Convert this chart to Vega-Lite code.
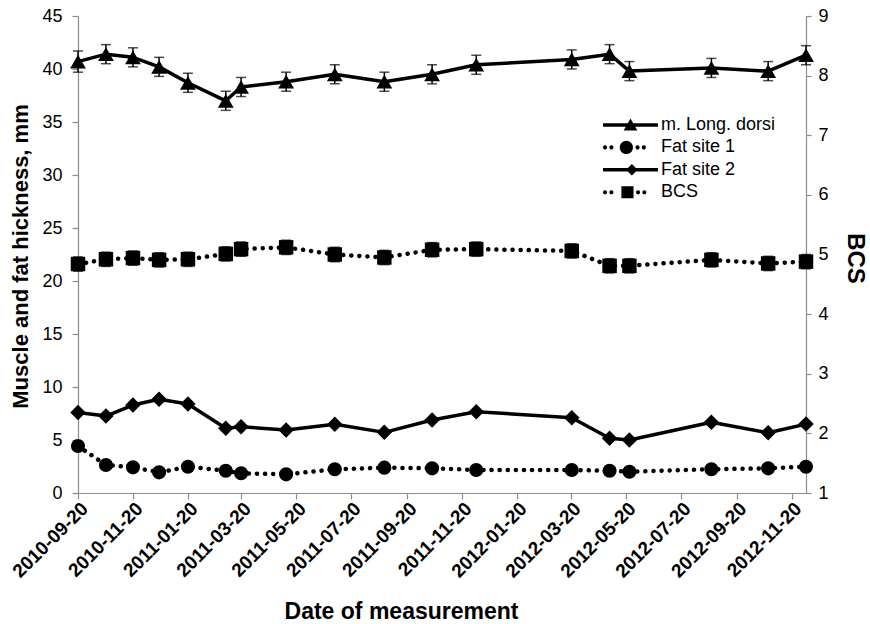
{
  "$schema": "https://vega.github.io/schema/vega-lite/v6.json",
  "width": 728,
  "height": 477,
  "autosize": "none",
  "padding": {"left": 78, "top": 16, "right": 64, "bottom": 131},
  "background": "white",
  "config": {
    "view": {"stroke": null},
    "font": "Liberation Sans",
    "axis": {
      "grid": false,
      "labelFont": "Liberation Sans",
      "titleFont": "Liberation Sans",
      "labelColor": "#000",
      "titleColor": "#000",
      "domainColor": "#8c8c8c",
      "tickColor": "#8c8c8c",
      "domainWidth": 1.2,
      "tickWidth": 1.2
    }
  },
  "datasets": {
    "pts": [
      {"date": "2010/09/20", "series": "m. Long. dorsi", "value": 40.7, "lo": 39.7, "hi": 41.7},
      {"date": "2010/10/21", "series": "m. Long. dorsi", "value": 41.4, "lo": 40.5, "hi": 42.3},
      {"date": "2010/11/20", "series": "m. Long. dorsi", "value": 41.1, "lo": 40.2, "hi": 42.0},
      {"date": "2010/12/19", "series": "m. Long. dorsi", "value": 40.2, "lo": 39.3, "hi": 41.1},
      {"date": "2011/01/20", "series": "m. Long. dorsi", "value": 38.7, "lo": 37.8, "hi": 39.6},
      {"date": "2011/03/03", "series": "m. Long. dorsi", "value": 37.0, "lo": 36.1, "hi": 37.9},
      {"date": "2011/03/20", "series": "m. Long. dorsi", "value": 38.3, "lo": 37.4, "hi": 39.2},
      {"date": "2011/05/09", "series": "m. Long. dorsi", "value": 38.8, "lo": 37.9, "hi": 39.7},
      {"date": "2011/07/02", "series": "m. Long. dorsi", "value": 39.5, "lo": 38.6, "hi": 40.4},
      {"date": "2011/08/26", "series": "m. Long. dorsi", "value": 38.8, "lo": 37.9, "hi": 39.7},
      {"date": "2011/10/18", "series": "m. Long. dorsi", "value": 39.5, "lo": 38.6, "hi": 40.4},
      {"date": "2011/12/06", "series": "m. Long. dorsi", "value": 40.4, "lo": 39.5, "hi": 41.3},
      {"date": "2012/03/21", "series": "m. Long. dorsi", "value": 40.9, "lo": 40.0, "hi": 41.8},
      {"date": "2012/05/02", "series": "m. Long. dorsi", "value": 41.4, "lo": 40.5, "hi": 42.3},
      {"date": "2012/05/24", "series": "m. Long. dorsi", "value": 39.8, "lo": 38.9, "hi": 40.7},
      {"date": "2012/08/23", "series": "m. Long. dorsi", "value": 40.1, "lo": 39.2, "hi": 41.0},
      {"date": "2012/10/25", "series": "m. Long. dorsi", "value": 39.8, "lo": 38.9, "hi": 40.7},
      {"date": "2012/12/06", "series": "m. Long. dorsi", "value": 41.3, "lo": 40.4, "hi": 42.2},

      {"date": "2010/09/20", "series": "Fat site 1", "value": 4.43},
      {"date": "2010/10/21", "series": "Fat site 1", "value": 2.64},
      {"date": "2010/11/20", "series": "Fat site 1", "value": 2.42},
      {"date": "2010/12/19", "series": "Fat site 1", "value": 1.95},
      {"date": "2011/01/20", "series": "Fat site 1", "value": 2.48},
      {"date": "2011/03/03", "series": "Fat site 1", "value": 2.1},
      {"date": "2011/03/20", "series": "Fat site 1", "value": 1.86},
      {"date": "2011/05/09", "series": "Fat site 1", "value": 1.76},
      {"date": "2011/07/02", "series": "Fat site 1", "value": 2.24},
      {"date": "2011/08/26", "series": "Fat site 1", "value": 2.39},
      {"date": "2011/10/18", "series": "Fat site 1", "value": 2.33},
      {"date": "2011/12/06", "series": "Fat site 1", "value": 2.17},
      {"date": "2012/03/21", "series": "Fat site 1", "value": 2.17},
      {"date": "2012/05/02", "series": "Fat site 1", "value": 2.1},
      {"date": "2012/05/24", "series": "Fat site 1", "value": 2.0},
      {"date": "2012/08/23", "series": "Fat site 1", "value": 2.24},
      {"date": "2012/10/25", "series": "Fat site 1", "value": 2.33},
      {"date": "2012/12/06", "series": "Fat site 1", "value": 2.48},

      {"date": "2010/09/20", "series": "Fat site 2", "value": 7.6},
      {"date": "2010/10/21", "series": "Fat site 2", "value": 7.26},
      {"date": "2010/11/20", "series": "Fat site 2", "value": 8.3},
      {"date": "2010/12/19", "series": "Fat site 2", "value": 8.84},
      {"date": "2011/01/20", "series": "Fat site 2", "value": 8.4},
      {"date": "2011/03/03", "series": "Fat site 2", "value": 6.1},
      {"date": "2011/03/20", "series": "Fat site 2", "value": 6.25},
      {"date": "2011/05/09", "series": "Fat site 2", "value": 5.94},
      {"date": "2011/07/02", "series": "Fat site 2", "value": 6.48},
      {"date": "2011/08/26", "series": "Fat site 2", "value": 5.72},
      {"date": "2011/10/18", "series": "Fat site 2", "value": 6.89},
      {"date": "2011/12/06", "series": "Fat site 2", "value": 7.67},
      {"date": "2012/03/21", "series": "Fat site 2", "value": 7.1},
      {"date": "2012/05/02", "series": "Fat site 2", "value": 5.16},
      {"date": "2012/05/24", "series": "Fat site 2", "value": 5.0},
      {"date": "2012/08/23", "series": "Fat site 2", "value": 6.67},
      {"date": "2012/10/25", "series": "Fat site 2", "value": 5.69},
      {"date": "2012/12/06", "series": "Fat site 2", "value": 6.5},

      {"date": "2010/09/20", "series": "BCS", "value": 4.84, "lo": 4.72, "hi": 4.96},
      {"date": "2010/10/21", "series": "BCS", "value": 4.92, "lo": 4.80, "hi": 5.04},
      {"date": "2010/11/20", "series": "BCS", "value": 4.94, "lo": 4.82, "hi": 5.06},
      {"date": "2010/12/19", "series": "BCS", "value": 4.91, "lo": 4.79, "hi": 5.03},
      {"date": "2011/01/20", "series": "BCS", "value": 4.92, "lo": 4.80, "hi": 5.04},
      {"date": "2011/03/03", "series": "BCS", "value": 5.01, "lo": 4.89, "hi": 5.13},
      {"date": "2011/03/20", "series": "BCS", "value": 5.09, "lo": 4.97, "hi": 5.21},
      {"date": "2011/05/09", "series": "BCS", "value": 5.12, "lo": 5.00, "hi": 5.24},
      {"date": "2011/07/02", "series": "BCS", "value": 5.0, "lo": 4.88, "hi": 5.12},
      {"date": "2011/08/26", "series": "BCS", "value": 4.95, "lo": 4.83, "hi": 5.07},
      {"date": "2011/10/18", "series": "BCS", "value": 5.08, "lo": 4.96, "hi": 5.20},
      {"date": "2011/12/06", "series": "BCS", "value": 5.09, "lo": 4.97, "hi": 5.21},
      {"date": "2012/03/21", "series": "BCS", "value": 5.06, "lo": 4.94, "hi": 5.18},
      {"date": "2012/05/02", "series": "BCS", "value": 4.81, "lo": 4.69, "hi": 4.93},
      {"date": "2012/05/24", "series": "BCS", "value": 4.81, "lo": 4.69, "hi": 4.93},
      {"date": "2012/08/23", "series": "BCS", "value": 4.91, "lo": 4.79, "hi": 5.03},
      {"date": "2012/10/25", "series": "BCS", "value": 4.85, "lo": 4.73, "hi": 4.97},
      {"date": "2012/12/06", "series": "BCS", "value": 4.88, "lo": 4.76, "hi": 5.00}
    ]
  },
  "data": {"name": "pts"},
  "encoding": {
    "x": {
      "field": "date",
      "type": "temporal",
      "scale": {
        "domain": [{"year": 2010, "month": 9, "date": 20}, {"year": 2012, "month": 12, "date": 6}],
        "nice": false
      },
      "axis": {
        "title": "Date of measurement",
        "titleFontSize": 23,
        "titleFontWeight": "bold",
        "titleX": 323,
        "titleY": 125,
        "titleBaseline": "alphabetic",
        "titleAnchor": "middle",
        "format": "%Y-%m-%d",
        "labelAngle": -45,
        "labelFontSize": 19,
        "labelFontWeight": "bold",
        "labelPadding": 0,
        "tickSize": 6,
        "labelOverlap": false,
        "labelFlush": false,
        "values": [
          {"year": 2010, "month": 9, "date": 20},
          {"year": 2010, "month": 11, "date": 20},
          {"year": 2011, "month": 1, "date": 20},
          {"year": 2011, "month": 3, "date": 20},
          {"year": 2011, "month": 5, "date": 20},
          {"year": 2011, "month": 7, "date": 20},
          {"year": 2011, "month": 9, "date": 20},
          {"year": 2011, "month": 11, "date": 20},
          {"year": 2012, "month": 1, "date": 20},
          {"year": 2012, "month": 3, "date": 20},
          {"year": 2012, "month": 5, "date": 20},
          {"year": 2012, "month": 7, "date": 20},
          {"year": 2012, "month": 9, "date": 20},
          {"year": 2012, "month": 11, "date": 20}
        ]
      }
    }
  },
  "layer": [
    {
      "layer": [
        {
          "transform": [{"filter": {"field": "series", "equal": "m. Long. dorsi"}}],
          "mark": {"type": "errorbar", "color": "black", "thickness": 1.5, "ticks": {"size": 10, "thickness": 1.5, "color": "black"}},
          "encoding": {
            "y": {
              "field": "lo", "type": "quantitative", "scale": {"domain": [0, 45], "nice": false},
              "axis": {"title": "Muscle and fat hickness, mm", "titleFontSize": 22, "titleFontWeight": "bold", "titleAngle": -90, "titleX": -51, "titleY": 240, "titleAlign": "center", "titleBaseline": "alphabetic", "values": [0, 5, 10, 15, 20, 25, 30, 35, 40, 45], "labelFontSize": 18, "labelPadding": 10, "tickSize": 6}
            },
            "y2": {"field": "hi"}
          }
        },
        {
          "transform": [{"filter": {"field": "series", "equal": "m. Long. dorsi"}}],
          "mark": {"type": "line", "color": "black", "strokeWidth": 3.5, "strokeJoin": "round"},
          "encoding": {
            "y": {
              "field": "value", "type": "quantitative", "scale": {"domain": [0, 45], "nice": false},
              "axis": {"title": "Muscle and fat hickness, mm", "titleFontSize": 22, "titleFontWeight": "bold", "titleAngle": -90, "titleX": -51, "titleY": 240, "titleAlign": "center", "titleBaseline": "alphabetic", "values": [0, 5, 10, 15, 20, 25, 30, 35, 40, 45], "labelFontSize": 18, "labelPadding": 10, "tickSize": 6}
            }
          }
        },
        {
          "transform": [{"filter": {"field": "series", "equal": "Fat site 2"}}],
          "mark": {"type": "line", "color": "black", "strokeWidth": 3.5, "strokeJoin": "round"},
          "encoding": {
            "y": {
              "field": "value", "type": "quantitative", "scale": {"domain": [0, 45], "nice": false},
              "axis": {"title": "Muscle and fat hickness, mm", "titleFontSize": 22, "titleFontWeight": "bold", "titleAngle": -90, "titleX": -51, "titleY": 240, "titleAlign": "center", "titleBaseline": "alphabetic", "values": [0, 5, 10, 15, 20, 25, 30, 35, 40, 45], "labelFontSize": 18, "labelPadding": 10, "tickSize": 6}
            }
          }
        },
        {
          "transform": [{"filter": {"field": "series", "equal": "Fat site 1"}}],
          "mark": {"type": "line", "color": "black", "strokeWidth": 4.5, "strokeCap": "round", "strokeDash": [0.1, 8]},
          "encoding": {
            "y": {
              "field": "value", "type": "quantitative", "scale": {"domain": [0, 45], "nice": false},
              "axis": {"title": "Muscle and fat hickness, mm", "titleFontSize": 22, "titleFontWeight": "bold", "titleAngle": -90, "titleX": -51, "titleY": 240, "titleAlign": "center", "titleBaseline": "alphabetic", "values": [0, 5, 10, 15, 20, 25, 30, 35, 40, 45], "labelFontSize": 18, "labelPadding": 10, "tickSize": 6}
            }
          }
        },
        {
          "transform": [{"filter": {"field": "series", "equal": "m. Long. dorsi"}}],
          "mark": {"type": "point", "shape": "triangle-up", "filled": true, "color": "black", "opacity": 1, "size": 250},
          "encoding": {
            "y": {
              "field": "value", "type": "quantitative", "scale": {"domain": [0, 45], "nice": false},
              "axis": {"title": "Muscle and fat hickness, mm", "titleFontSize": 22, "titleFontWeight": "bold", "titleAngle": -90, "titleX": -51, "titleY": 240, "titleAlign": "center", "titleBaseline": "alphabetic", "values": [0, 5, 10, 15, 20, 25, 30, 35, 40, 45], "labelFontSize": 18, "labelPadding": 10, "tickSize": 6}
            }
          }
        },
        {
          "transform": [{"filter": {"field": "series", "equal": "Fat site 1"}}],
          "mark": {"type": "point", "shape": "circle", "filled": true, "color": "black", "opacity": 1, "size": 200},
          "encoding": {
            "y": {
              "field": "value", "type": "quantitative", "scale": {"domain": [0, 45], "nice": false},
              "axis": {"title": "Muscle and fat hickness, mm", "titleFontSize": 22, "titleFontWeight": "bold", "titleAngle": -90, "titleX": -51, "titleY": 240, "titleAlign": "center", "titleBaseline": "alphabetic", "values": [0, 5, 10, 15, 20, 25, 30, 35, 40, 45], "labelFontSize": 18, "labelPadding": 10, "tickSize": 6}
            }
          }
        },
        {
          "transform": [{"filter": {"field": "series", "equal": "Fat site 2"}}],
          "mark": {"type": "point", "shape": "diamond", "filled": true, "color": "black", "opacity": 1, "size": 240},
          "encoding": {
            "y": {
              "field": "value", "type": "quantitative", "scale": {"domain": [0, 45], "nice": false},
              "axis": {"title": "Muscle and fat hickness, mm", "titleFontSize": 22, "titleFontWeight": "bold", "titleAngle": -90, "titleX": -51, "titleY": 240, "titleAlign": "center", "titleBaseline": "alphabetic", "values": [0, 5, 10, 15, 20, 25, 30, 35, 40, 45], "labelFontSize": 18, "labelPadding": 10, "tickSize": 6}
            }
          }
        },
        {
          "mark": {"type": "point", "filled": true, "color": "black", "opacity": 0},
          "encoding": {
            "y": {
              "field": "value", "type": "quantitative", "scale": {"domain": [0, 45], "nice": false},
              "axis": {"title": "Muscle and fat hickness, mm", "titleFontSize": 22, "titleFontWeight": "bold", "titleAngle": -90, "titleX": -51, "titleY": 240, "titleAlign": "center", "titleBaseline": "alphabetic", "values": [0, 5, 10, 15, 20, 25, 30, 35, 40, 45], "labelFontSize": 18, "labelPadding": 10, "tickSize": 6}
            },
            "shape": {
              "field": "series",
              "type": "nominal",
              "scale": {
                "domain": ["m. Long. dorsi", "Fat site 1", "Fat site 2", "BCS"],
                "range": [
                  "M-1,-0.065L1,-0.065L1,0.065L-1,0.065ZM-0.25,0.2L0,-0.24L0.25,0.2Z",
                  "M-1,0A0.075,0.075 0 1,0 -0.85,0A0.075,0.075 0 1,0 -1,0ZM-0.77,0A0.075,0.075 0 1,0 -0.62,0A0.075,0.075 0 1,0 -0.77,0ZM-0.39,0A0.24,0.24 0 1,0 0.09,0A0.24,0.24 0 1,0 -0.39,0ZM0.18,0A0.075,0.075 0 1,0 0.33,0A0.075,0.075 0 1,0 0.18,0ZM0.41,0A0.075,0.075 0 1,0 0.56,0A0.075,0.075 0 1,0 0.41,0Z",
                  "M-1,-0.065L1,-0.065L1,0.065L-1,0.065ZM-0.16,0L0.05,-0.21L0.26,0L0.05,0.21Z",
                  "M-1,0A0.075,0.075 0 1,0 -0.85,0A0.075,0.075 0 1,0 -1,0ZM-0.77,0A0.075,0.075 0 1,0 -0.62,0A0.075,0.075 0 1,0 -0.77,0ZM-0.33,-0.22L0.11,-0.22L0.11,0.22L-0.33,0.22ZM0.2,0A0.075,0.075 0 1,0 0.35,0A0.075,0.075 0 1,0 0.2,0ZM0.43,0A0.075,0.075 0 1,0 0.58,0A0.075,0.075 0 1,0 0.43,0Z"
                ]
              },
              "legend": {
                "title": null,
                "orient": "none",
                "legendX": 525,
                "legendY": 99,
                "padding": 0,
                "symbolSize": 3025,
                "symbolOpacity": 1,
                "symbolFillColor": "black",
                "symbolStrokeWidth": 0,
                "clipHeight": 20,
                "rowPadding": 2.4,
                "labelOffset": 3,
                "labelFont": "Liberation Sans",
                "labelFontSize": 18,
                "labelColor": "black",
                "labelLimit": 300
              }
            }
          }
        }
      ]
    },
    {
      "transform": [{"filter": {"field": "series", "equal": "BCS"}}],
      "layer": [
        {
          "mark": {"type": "errorbar", "color": "black", "thickness": 1.5, "ticks": {"size": 10, "thickness": 1.5, "color": "black"}},
          "encoding": {
            "y": {
              "field": "lo", "type": "quantitative", "scale": {"domain": [1, 9], "nice": false},
              "axis": {"orient": "right", "title": "BCS", "titleFontSize": 24, "titleFontWeight": "bold", "titleAngle": 90, "titleX": 41, "titleY": 242, "titleAlign": "center", "titleBaseline": "alphabetic", "values": [1, 2, 3, 4, 5, 6, 7, 8, 9], "labelFontSize": 18, "labelPadding": 7, "tickSize": 5}
            },
            "y2": {"field": "hi"}
          }
        },
        {
          "mark": {"type": "line", "color": "black", "strokeWidth": 4.5, "strokeCap": "round", "strokeDash": [0.1, 8]},
          "encoding": {
            "y": {
              "field": "value", "type": "quantitative", "scale": {"domain": [1, 9], "nice": false},
              "axis": {"orient": "right", "title": "BCS", "titleFontSize": 24, "titleFontWeight": "bold", "titleAngle": 90, "titleX": 41, "titleY": 242, "titleAlign": "center", "titleBaseline": "alphabetic", "values": [1, 2, 3, 4, 5, 6, 7, 8, 9], "labelFontSize": 18, "labelPadding": 7, "tickSize": 5}
            }
          }
        },
        {
          "mark": {"type": "point", "shape": "square", "filled": true, "color": "black", "opacity": 1, "size": 210},
          "encoding": {
            "y": {
              "field": "value", "type": "quantitative", "scale": {"domain": [1, 9], "nice": false},
              "axis": {"orient": "right", "title": "BCS", "titleFontSize": 24, "titleFontWeight": "bold", "titleAngle": 90, "titleX": 41, "titleY": 242, "titleAlign": "center", "titleBaseline": "alphabetic", "values": [1, 2, 3, 4, 5, 6, 7, 8, 9], "labelFontSize": 18, "labelPadding": 7, "tickSize": 5}
            }
          }
        }
      ]
    }
  ],
  "resolve": {"scale": {"y": "independent"}}
}
